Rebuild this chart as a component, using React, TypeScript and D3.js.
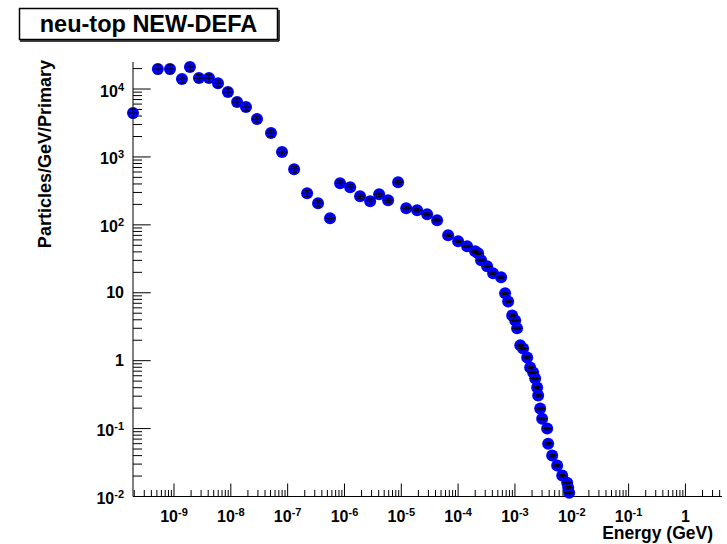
import React from "react";
import * as d3 from "d3";

const title = "neu-top NEW-DEFA";
const xTitle = "Energy (GeV)";
const yTitle = "Particles/GeV/Primary";

const energy = [
  1.9e-10, 5.2e-10, 8.5e-10, 1.38e-9, 1.91e-9, 2.75e-9, 4.13e-9, 5.95e-9, 8.9e-9,
  1.29e-8, 1.85e-8, 2.89e-8, 5.1e-8, 7.96e-8, 1.3e-7, 2.2e-7, 3.43e-7, 5.57e-7,
  8.37e-7, 1.26e-6, 1.88e-6, 2.83e-6, 4.07e-6, 5.86e-6, 8.79e-6, 1.22e-5, 1.9e-5,
  2.85e-5, 4.27e-5, 6.67e-5, 1.0e-4, 1.44e-4, 1.99e-4, 2.25e-4, 2.54e-4, 3.24e-4,
  4.13e-4, 5.71e-4, 6.71e-4, 7.59e-4, 8.93e-4, 1.01e-3, 1.09e-3, 1.24e-3, 1.39e-3,
  1.64e-3, 1.85e-3, 2.09e-3, 2.27e-3, 2.46e-3, 2.56e-3, 2.78e-3, 3.01e-3, 3.69e-3,
  3.84e-3, 4.52e-3, 5.53e-3, 6.78e-3, 8.3e-3, 8.65e-3, 9.0e-3,
];

const flux = [
  4430, 19700, 19700, 14000, 21100, 14500, 14500, 12200, 9030,
  6430, 5430, 3610, 2245, 1178, 661, 292, 208, 125,
  411, 359, 264, 223, 283, 231, 425, 176, 164,
  143, 117, 70.3, 57.3, 48.3, 40.8, 38.1, 30.1, 24.5,
  19.3, 16.9, 9.8, 7.46, 4.64, 3.92, 2.99, 1.68, 1.51,
  1.11, 0.794, 0.67, 0.546, 0.402, 0.307, 0.197, 0.14, 0.1,
  0.06, 0.04, 0.0285, 0.0203, 0.016, 0.0135, 0.0114,
];

const relErr = [
  0.15, 0.15, 0.15, 0.12, 0.12, 0.12, 0.12, 0.12, 0.12,
  0.12, 0.12, 0.1, 0.1, 0.1, 0.1, 0.1, 0.1, 0.1,
  0.08, 0.08, 0.08, 0.08, 0.08, 0.08, 0.06, 0.05, 0.05,
  0.05, 0.05, 0.04, 0.04, 0.04, 0.04, 0.04, 0.04, 0.04,
  0.04, 0.04, 0.04, 0.04, 0.04, 0.04, 0.04, 0.04, 0.04,
  0.04, 0.04, 0.04, 0.04, 0.04, 0.04, 0.04, 0.04, 0.04,
  0.04, 0.04, 0.04, 0.04, 0.04, 0.04, 0.04,
];

const xLabelExps = [-9, -8, -7, -6, -5, -4, -3, -2, -1, 0];
const yLabelExps = [-2, -1, 0, 1, 2, 3, 4];

const FONT = "'Liberation Sans', Arial, Helvetica, sans-serif";

function Label({ e, x, y, anchor }: { e: number; x: number; y: number; anchor: string }) {
  if (e === 0 || e === 1) {
    return (
      <text x={x} y={y} textAnchor={anchor} fontSize={16} fontWeight="bold" fontFamily={FONT}>
        {e === 0 ? "1" : "10"}
      </text>
    );
  }
  return (
    <text x={x} y={y} textAnchor={anchor} fontSize={16} fontWeight="bold" fontFamily={FONT}>
      <tspan>10</tspan>
      <tspan dy={-6} fontSize={11}>{String(e)}</tspan>
    </text>
  );
}

export default function App() {
  const W = 727;
  const H = 544;
  const x = d3.scaleLog().domain([1.9e-10, 4.4]).range([133, 722]);
  const y = d3.scaleLog().domain([0.01, 2.5e4]).range([496.5, 62]);
  const [x0, x1] = x.range();
  const [y0, y1] = y.range();

  const xTicks: { v: number; major: boolean }[] = [];
  for (let e = -11; e <= 1; e++) {
    for (let m = 1; m <= 9; m++) {
      const v = m * Math.pow(10, e);
      if (v >= x.domain()[0] * 0.999 && v <= x.domain()[1]) xTicks.push({ v, major: m === 1 });
    }
  }
  const yTicks: { v: number; major: boolean }[] = [];
  for (let e = -3; e <= 5; e++) {
    for (let m = 1; m <= 9; m++) {
      const v = m * Math.pow(10, e);
      if (v >= y.domain()[0] * 0.999 && v <= y.domain()[1]) yTicks.push({ v, major: m === 1 });
    }
  }

  const pts = energy.map((e, i) => ({
    px: x(e),
    py: y(flux[i]),
    lo: y(flux[i] * (1 - relErr[i])),
    hi: y(flux[i] * (1 + relErr[i])),
  }));

  return (
    <div style={{ position: "absolute", left: 0, top: 0 }}>
      <svg width={W} height={H} style={{ display: "block", background: "#fff" }}>
        <rect x={0} y={0} width={W} height={H} fill="#fff" />
        {/* title box */}
        <rect x={19.5} y={8.5} width={258} height={31} fill="#fff" stroke="#000" strokeWidth={1.5} />
        <line x1={20} y1={41} x2={279} y2={41} stroke="#000" strokeWidth={1.5} />
        <line x1={279} y1={10} x2={279} y2={41} stroke="#000" strokeWidth={1.5} />
        <text x={148.5} y={31.5} textAnchor="middle" fontSize={23.5} fontWeight="bold" fontFamily={FONT}>
          {title}
        </text>

        {/* axes */}
        <line x1={x0} y1={y0} x2={x1} y2={y0} stroke="#000" strokeWidth={1} />
        <line x1={x0} y1={y0} x2={x0} y2={y1} stroke="#000" strokeWidth={1} />
        {xTicks.map((t, i) => (
          <line key={"xt" + i} x1={x(t.v)} x2={x(t.v)} y1={y0} y2={y0 - (t.major ? 13 : 6.5)} stroke="#000" strokeWidth={1} />
        ))}
        {yTicks.map((t, i) => (
          <line key={"yt" + i} x1={x0} x2={x0 + (t.major ? 17.7 : 9)} y1={y(t.v)} y2={y(t.v)} stroke="#000" strokeWidth={1} />
        ))}
        {xLabelExps.map((e) => (
          <Label key={"xl" + e} e={e} x={x(Math.pow(10, e))} y={y0 + 25.5} anchor="middle" />
        ))}
        {yLabelExps.map((e) => (
          <Label key={"yl" + e} e={e} x={124} y={y(Math.pow(10, e)) + (e === 0 || e === 1 ? 5.5 : 7.5)} anchor="end" />
        ))}
        <text x={713} y={539} textAnchor="end" fontSize={17.5} fontWeight="bold" fontFamily={FONT}>
          {xTitle}
        </text>
        <text transform={`translate(51,60) rotate(-90)`} textAnchor="end" fontSize={18} fontWeight="bold" fontFamily={FONT}>
          {yTitle}
        </text>

        {/* data */}
        {pts.map((p, i) => (
          <circle key={"m" + i} cx={p.px} cy={p.py} r={6} fill="#0000ff" />
        ))}
        {pts.map((p, i) => (
          <g key={"e" + i} stroke="#000" strokeWidth={1}>
            <line x1={p.px - 5} x2={p.px + 5} y1={p.py} y2={p.py} />
            <line x1={p.px} x2={p.px} y1={p.lo} y2={p.hi} />
            <line x1={p.px - 3} x2={p.px + 3} y1={p.lo} y2={p.lo} />
            <line x1={p.px - 3} x2={p.px + 3} y1={p.hi} y2={p.hi} />
          </g>
        ))}
      </svg>
    </div>
  );
}
